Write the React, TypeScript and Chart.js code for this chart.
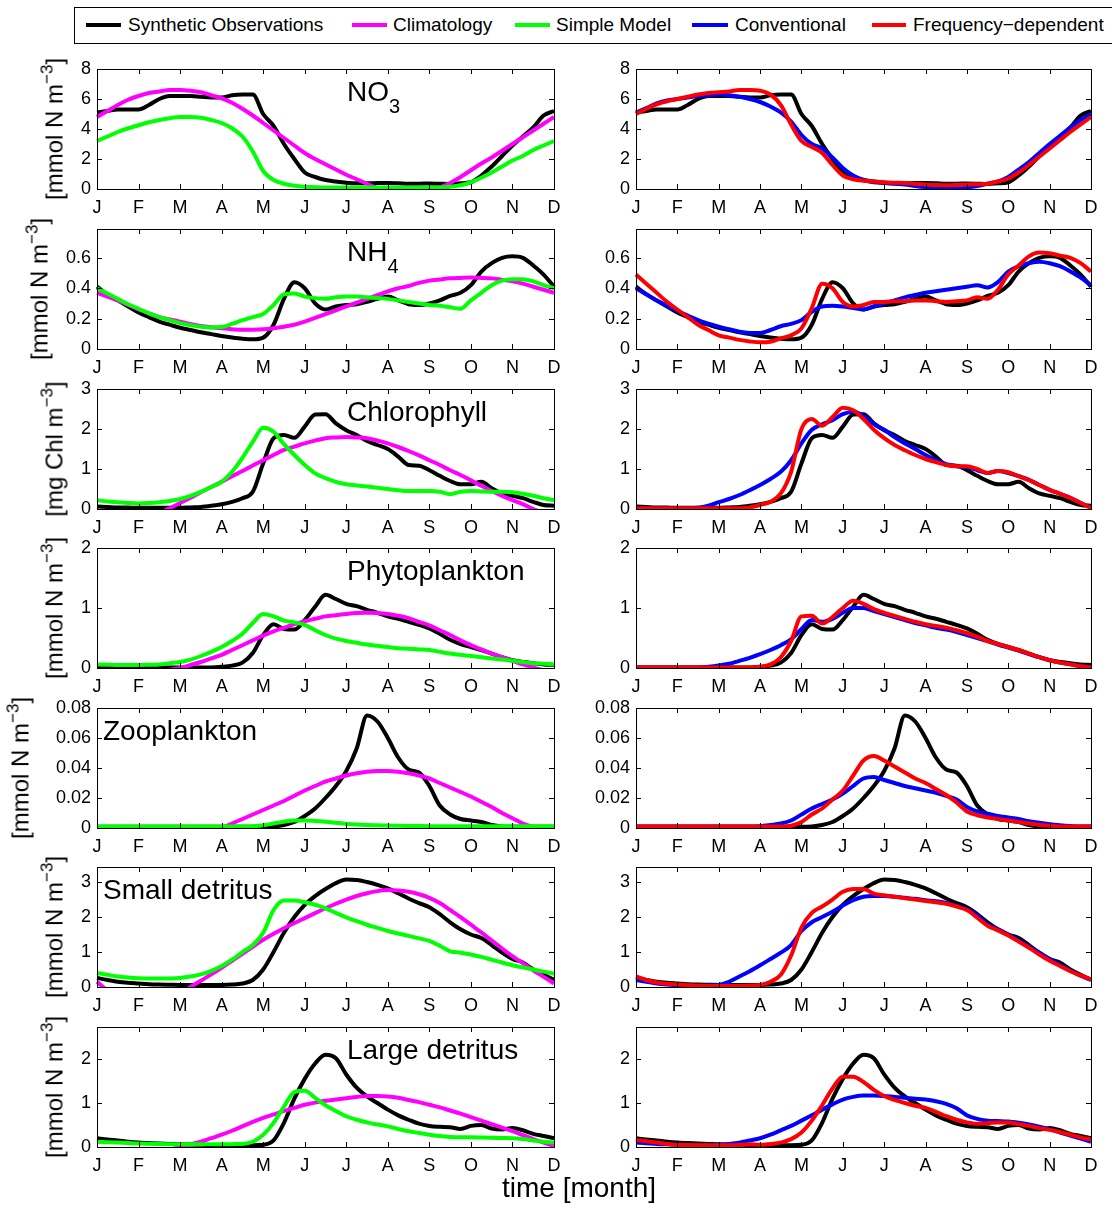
import React, { useEffect, useRef } from 'react';
import { Chart, registerables } from 'chart.js';

Chart.register(...registerables);

// ---------------- DATA ----------------
const MONTHS = ['J', 'F', 'M', 'A', 'M', 'J', 'J', 'A', 'S', 'O', 'N', 'D'];

// sampling grid in months (J = 0 ... D = 11)
const GRID = [
  0, 0.25, 0.5, 0.75, 1, 1.25, 1.5, 1.75, 2, 2.25, 2.5, 2.75, 3, 3.25, 3.5, 3.75,
  4, 4.25, 4.5, 4.75, 5, 5.25, 5.5, 5.75, 6, 6.25, 6.5, 6.75, 7, 7.25, 7.5, 7.75,
  8, 8.25, 8.5, 8.75, 9, 9.25, 9.5, 9.75, 10, 10.25, 10.5, 10.75, 11,
];

const SERIES_NAMES = ['Synthetic Observations', 'Climatology', 'Simple Model', 'Conventional', 'Frequency\u2212dependent'];
const SERIES_COLORS = ['#000000', '#ff00ff', '#00ff00', '#0000ff', '#ff0000'];

// NO3
const NO3_OBS = [5.1, 5.2, 5.3, 5.3, 5.3, 5.6, 6.0, 6.2, 6.2, 6.2, 6.15, 6.1, 6.1, 6.25, 6.3, 6.3, 5.0, 4.2, 3.0, 2.0, 1.1, 0.8, 0.6, 0.5, 0.42, 0.38, 0.38, 0.4, 0.4, 0.38, 0.35, 0.35, 0.37, 0.35, 0.33, 0.38, 0.45, 0.9, 1.5, 2.2, 2.9, 3.5, 4.1, 4.9, 5.2];
const NO3_CLIM = [4.8, 5.2, 5.6, 5.95, 6.2, 6.4, 6.5, 6.6, 6.6, 6.55, 6.45, 6.25, 6.05, 5.75, 5.35, 4.9, 4.4, 3.9, 3.4, 2.9, 2.4, 2.0, 1.65, 1.3, 0.95, 0.65, 0.35, 0.05, -0.2, -0.3, -0.3, -0.25, -0.1, 0.1, 0.4, 0.8, 1.25, 1.7, 2.1, 2.55, 3.0, 3.45, 3.9, 4.35, 4.8];
const NO3_SIMPLE = [3.2, 3.5, 3.8, 4.05, 4.25, 4.45, 4.6, 4.72, 4.8, 4.8, 4.75, 4.6, 4.4, 4.05, 3.5, 2.5, 1.2, 0.6, 0.35, 0.22, 0.15, 0.12, 0.1, 0.1, 0.1, 0.1, 0.1, 0.1, 0.1, 0.1, 0.1, 0.1, 0.1, 0.1, 0.15, 0.25, 0.45, 0.75, 1.1, 1.5, 1.9, 2.2, 2.6, 2.9, 3.2];
const NO3_CONV = [5.1, 5.4, 5.7, 5.9, 6.0, 6.1, 6.2, 6.25, 6.3, 6.25, 6.15, 6.0, 5.8, 5.5, 5.1, 4.5, 3.6, 3.0, 2.7, 2.1, 1.4, 0.9, 0.6, 0.45, 0.4, 0.35, 0.3, 0.2, 0.12, 0.05, 0.02, 0.02, 0.1, 0.2, 0.35, 0.5, 0.8, 1.3, 1.8, 2.4, 3.0, 3.55, 4.1, 4.6, 5.0];
const NO3_FREQ = [5.0, 5.35, 5.65, 5.85, 6.0, 6.15, 6.3, 6.4, 6.45, 6.5, 6.6, 6.6, 6.55, 6.3, 5.6, 4.3, 3.2, 2.8, 2.4, 1.6, 0.9, 0.65, 0.55, 0.5, 0.45, 0.42, 0.4, 0.35, 0.3, 0.27, 0.25, 0.27, 0.3, 0.32, 0.35, 0.5, 0.7, 1.1, 1.6, 2.15, 2.7, 3.25, 3.8, 4.3, 4.8];

// NH4
const NH4_OBS = [0.41, 0.36, 0.32, 0.28, 0.24, 0.21, 0.18, 0.16, 0.14, 0.125, 0.11, 0.098, 0.086, 0.076, 0.068, 0.064, 0.075, 0.16, 0.33, 0.44, 0.40, 0.30, 0.26, 0.28, 0.29, 0.295, 0.31, 0.33, 0.345, 0.32, 0.295, 0.29, 0.30, 0.32, 0.35, 0.37, 0.42, 0.51, 0.565, 0.60, 0.61, 0.60, 0.55, 0.49, 0.41];
const NH4_CLIM = [0.37, 0.345, 0.32, 0.29, 0.26, 0.235, 0.21, 0.195, 0.18, 0.165, 0.152, 0.143, 0.136, 0.13, 0.126, 0.127, 0.13, 0.137, 0.147, 0.16, 0.18, 0.205, 0.23, 0.255, 0.28, 0.305, 0.33, 0.355, 0.38, 0.40, 0.415, 0.435, 0.45, 0.458, 0.465, 0.468, 0.47, 0.468, 0.465, 0.455, 0.445, 0.43, 0.41, 0.39, 0.37];
const NH4_SIMPLE = [0.40, 0.365, 0.33, 0.295, 0.265, 0.235, 0.21, 0.19, 0.17, 0.157, 0.147, 0.142, 0.145, 0.165, 0.19, 0.21, 0.23, 0.29, 0.36, 0.365, 0.345, 0.335, 0.33, 0.34, 0.345, 0.345, 0.34, 0.335, 0.33, 0.32, 0.31, 0.30, 0.29, 0.285, 0.275, 0.265, 0.32, 0.37, 0.42, 0.45, 0.46, 0.46, 0.445, 0.42, 0.40];
const NH4_CONV = [0.40, 0.36, 0.32, 0.285, 0.25, 0.22, 0.19, 0.167, 0.147, 0.13, 0.114, 0.106, 0.105, 0.125, 0.15, 0.165, 0.19, 0.245, 0.28, 0.285, 0.28, 0.27, 0.26, 0.28, 0.30, 0.32, 0.34, 0.355, 0.37, 0.38, 0.39, 0.40, 0.41, 0.42, 0.405, 0.44, 0.51, 0.545, 0.565, 0.575, 0.565, 0.545, 0.51, 0.47, 0.42];
const NH4_FREQ = [0.49, 0.43, 0.37, 0.31, 0.26, 0.21, 0.16, 0.125, 0.09, 0.075, 0.06, 0.05, 0.044, 0.048, 0.07, 0.09, 0.136, 0.27, 0.43, 0.40, 0.31, 0.28, 0.29, 0.31, 0.31, 0.315, 0.315, 0.32, 0.32, 0.315, 0.31, 0.315, 0.32, 0.34, 0.33, 0.39, 0.49, 0.55, 0.61, 0.635, 0.63, 0.615, 0.60, 0.565, 0.51];

// Chlorophyll
const CHL_OBS = [0.06, 0.05, 0.04, 0.035, 0.03, 0.03, 0.03, 0.03, 0.03, 0.04, 0.05, 0.08, 0.12, 0.18, 0.27, 0.43, 1.14, 1.77, 1.85, 1.78, 2.06, 2.36, 2.37, 2.14, 1.97, 1.85, 1.7, 1.6, 1.5, 1.31, 1.1, 1.08, 0.97, 0.83, 0.7, 0.62, 0.62, 0.68, 0.52, 0.39, 0.33, 0.27, 0.18, 0.1, 0.08];
const CHL_CLIM = [-0.65, -0.6, -0.52, -0.43, -0.33, -0.22, -0.1, 0.02, 0.15, 0.28, 0.42, 0.55, 0.68, 0.82, 0.95, 1.09, 1.22, 1.35, 1.48, 1.56, 1.64, 1.71, 1.77, 1.79, 1.8, 1.79, 1.77, 1.71, 1.64, 1.55, 1.45, 1.34, 1.22, 1.1, 0.97, 0.85, 0.72, 0.58, 0.45, 0.33, 0.22, 0.12, 0.0, -0.1, -0.2];
const CHL_SIMPLE = [0.22, 0.19, 0.17, 0.15, 0.14, 0.15, 0.17, 0.2, 0.25, 0.33, 0.43, 0.55, 0.68, 0.93, 1.28, 1.68, 2.03, 1.93, 1.62, 1.35, 1.1, 0.89, 0.77, 0.68, 0.62, 0.59, 0.56, 0.53, 0.5, 0.47, 0.45, 0.45, 0.45, 0.43, 0.37, 0.43, 0.45, 0.44, 0.43, 0.43, 0.42, 0.38, 0.33, 0.27, 0.22];
const CHL_CONV = [0.02, 0.02, 0.02, 0.02, 0.02, 0.02, 0.03, 0.08, 0.17, 0.25, 0.35, 0.47, 0.6, 0.75, 0.93, 1.22, 1.64, 1.98, 2.12, 2.22, 2.37, 2.43, 2.33, 2.12, 1.98, 1.8, 1.64, 1.5, 1.35, 1.22, 1.12, 1.07, 1.04, 0.97, 0.9, 0.95, 0.9, 0.82, 0.73, 0.6, 0.48, 0.38, 0.28, 0.15, 0.03];
const CHL_FREQ = [0.02, 0.02, 0.02, 0.02, 0.02, 0.02, 0.02, 0.02, 0.02, 0.02, 0.02, 0.04, 0.1, 0.18, 0.39, 0.93, 2.0, 2.25, 2.08, 2.3, 2.53, 2.47, 2.25, 1.98, 1.77, 1.6, 1.47, 1.35, 1.25, 1.17, 1.1, 1.07, 1.07, 1.0, 0.9, 0.95, 0.92, 0.82, 0.72, 0.6, 0.48, 0.38, 0.28, 0.15, 0.03];

// Phytoplankton
const PHY_OBS = [0.01, 0.01, 0.01, 0.01, 0.01, 0.01, 0.01, 0.01, 0.01, 0.01, 0.01, 0.01, 0.02, 0.04, 0.09, 0.25, 0.55, 0.73, 0.65, 0.64, 0.8, 1.02, 1.22, 1.15, 1.07, 1.03, 0.97, 0.92, 0.86, 0.82, 0.77, 0.72, 0.66, 0.57, 0.47, 0.4, 0.35, 0.3, 0.24, 0.18, 0.13, 0.1, 0.08, 0.06, 0.05];
const PHY_CLIM = [-0.25, -0.22, -0.19, -0.16, -0.13, -0.1, -0.07, -0.03, 0.0, 0.05, 0.1, 0.16, 0.22, 0.3, 0.38, 0.46, 0.54, 0.61, 0.67, 0.73, 0.78, 0.82, 0.86, 0.88, 0.9, 0.915, 0.92, 0.915, 0.9, 0.87, 0.83, 0.77, 0.71, 0.63, 0.55, 0.46, 0.38, 0.31, 0.24, 0.18, 0.12, 0.06, 0.01, -0.04, -0.08];
const PHY_SIMPLE = [0.06, 0.055, 0.05, 0.05, 0.05, 0.055, 0.06, 0.08, 0.1, 0.14, 0.2, 0.27, 0.35, 0.45, 0.57, 0.75, 0.9, 0.86, 0.79, 0.76, 0.72, 0.63, 0.55, 0.49, 0.45, 0.42, 0.39, 0.37, 0.35, 0.33, 0.32, 0.31, 0.3, 0.27, 0.24, 0.22, 0.2, 0.18, 0.16, 0.14, 0.12, 0.1, 0.08, 0.07, 0.06];
const PHY_CONV = [0.01, 0.01, 0.01, 0.01, 0.01, 0.01, 0.01, 0.02, 0.04, 0.07, 0.12, 0.17, 0.23, 0.3, 0.38, 0.48, 0.65, 0.8, 0.77, 0.82, 0.92, 1.0, 1.0, 0.95, 0.9, 0.85, 0.8, 0.75, 0.71, 0.67, 0.64, 0.6, 0.55, 0.5, 0.45, 0.39, 0.34, 0.29, 0.23, 0.18, 0.13, 0.09, 0.06, 0.03, 0.01];
const PHY_FREQ = [0.01, 0.01, 0.01, 0.01, 0.01, 0.01, 0.01, 0.01, 0.01, 0.01, 0.01, 0.01, 0.02, 0.06, 0.18, 0.45, 0.86, 0.87, 0.74, 0.85, 1.0, 1.12, 1.07, 0.98, 0.92, 0.87, 0.82, 0.77, 0.73, 0.7, 0.67, 0.63, 0.58, 0.52, 0.45, 0.4, 0.35, 0.3, 0.24, 0.18, 0.13, 0.09, 0.06, 0.03, 0.01];

// Zooplankton
const ZOO_OBS = [0.0008, 0.0008, 0.0008, 0.0008, 0.0008, 0.0008, 0.0008, 0.0008, 0.0008, 0.0008, 0.0008, 0.0008, 0.0008, 0.0008, 0.0008, 0.0008, 0.0008, 0.001, 0.002, 0.004, 0.008, 0.013, 0.02, 0.028, 0.038, 0.053, 0.075, 0.071, 0.06, 0.047, 0.039, 0.037, 0.028, 0.015, 0.009, 0.006, 0.005, 0.004, 0.002, 0.001, 0.0008, 0.0008, 0.0008, 0.0008, 0.0008];
const ZOO_CLIM = [-0.02, -0.018, -0.016, -0.014, -0.012, -0.01, -0.0085, -0.007, -0.0055, -0.0042, -0.003, -0.0015, 0.0, 0.003, 0.006, 0.009, 0.012, 0.015, 0.018, 0.0215, 0.025, 0.028, 0.031, 0.033, 0.035, 0.0365, 0.0375, 0.038, 0.038, 0.0375, 0.0365, 0.035, 0.033, 0.03, 0.027, 0.024, 0.021, 0.0175, 0.014, 0.01, 0.0065, 0.003, 0.0005, -0.003, -0.006];
const ZOO_SIMPLE = [0.001, 0.001, 0.001, 0.001, 0.001, 0.001, 0.001, 0.001, 0.001, 0.001, 0.001, 0.001, 0.001, 0.001, 0.001, 0.0012, 0.0018, 0.003, 0.0042, 0.005, 0.005, 0.0047, 0.0042, 0.0035, 0.0028, 0.0023, 0.002, 0.0018, 0.0016, 0.0015, 0.0014, 0.0013, 0.0012, 0.0012, 0.0012, 0.0012, 0.0012, 0.0012, 0.0012, 0.0012, 0.0012, 0.0012, 0.0012, 0.0012, 0.0012];
const ZOO_CONV = [0.001, 0.001, 0.001, 0.001, 0.001, 0.001, 0.001, 0.001, 0.001, 0.001, 0.001, 0.001, 0.0012, 0.002, 0.003, 0.005, 0.009, 0.013, 0.016, 0.019, 0.023, 0.028, 0.033, 0.034, 0.032, 0.03, 0.028, 0.0265, 0.025, 0.0235, 0.0215, 0.019, 0.014, 0.011, 0.0095, 0.008, 0.007, 0.006, 0.0045, 0.0035, 0.0025, 0.0018, 0.0013, 0.001, 0.001];
const ZOO_FREQ = [0.001, 0.001, 0.001, 0.001, 0.001, 0.001, 0.001, 0.001, 0.001, 0.001, 0.001, 0.001, 0.001, 0.001, 0.001, 0.0015, 0.004, 0.009, 0.013, 0.019, 0.025, 0.035, 0.045, 0.048, 0.045, 0.041, 0.037, 0.033, 0.03, 0.026, 0.022, 0.017, 0.011, 0.0085, 0.007, 0.006, 0.005, 0.004, 0.003, 0.002, 0.0015, 0.001, 0.001, 0.001, 0.001];

// Small detritus
const SD_OBS = [0.26, 0.2, 0.15, 0.12, 0.1, 0.08, 0.07, 0.065, 0.06, 0.06, 0.06, 0.06, 0.06, 0.07, 0.1, 0.2, 0.5, 1.0, 1.55, 2.0, 2.35, 2.6, 2.8, 2.97, 3.07, 3.06, 3.0, 2.92, 2.82, 2.68, 2.53, 2.4, 2.28, 2.08, 1.85, 1.65, 1.5, 1.4, 1.2, 0.98, 0.8, 0.7, 0.5, 0.35, 0.21];
const SD_CLIM = [0.15, -0.1, -0.3, -0.45, -0.55, -0.6, -0.55, -0.4, -0.2, 0.0, 0.18, 0.36, 0.55, 0.75, 0.95, 1.15, 1.35, 1.52, 1.68, 1.83, 1.97, 2.11, 2.25, 2.38, 2.5, 2.6, 2.68, 2.74, 2.77, 2.76, 2.72, 2.65, 2.55, 2.4, 2.2, 2.0, 1.78, 1.56, 1.33, 1.1, 0.88, 0.68, 0.48, 0.29, 0.1];
const SD_SIMPLE = [0.4, 0.35, 0.3, 0.27, 0.25, 0.24, 0.24, 0.245, 0.26, 0.3, 0.36, 0.46, 0.6, 0.78, 1.0, 1.2, 1.55, 2.2, 2.47, 2.47, 2.42, 2.35, 2.25, 2.12, 1.99, 1.88, 1.78, 1.69, 1.6, 1.53, 1.46, 1.39, 1.32, 1.18, 1.02, 0.98, 0.93, 0.86, 0.78, 0.7, 0.62, 0.56, 0.5, 0.44, 0.38];
const SD_CONV = [0.2, 0.15, 0.1, 0.07, 0.05, 0.04, 0.03, 0.04, 0.06, 0.15, 0.3, 0.45, 0.62, 0.8, 0.98, 1.2, 1.6, 1.85, 2.0, 2.15, 2.33, 2.48, 2.58, 2.6, 2.6, 2.58, 2.55, 2.52, 2.48, 2.45, 2.4, 2.32, 2.22, 2.05, 1.78, 1.65, 1.5, 1.33, 1.15, 0.98, 0.8, 0.63, 0.47, 0.32, 0.2];
const SD_FREQ = [0.3, 0.2, 0.13, 0.09, 0.07, 0.05, 0.04, 0.03, 0.03, 0.03, 0.03, 0.04, 0.06, 0.15, 0.35, 0.9, 1.7, 2.12, 2.3, 2.5, 2.72, 2.8, 2.8, 2.67, 2.62, 2.58, 2.54, 2.5, 2.46, 2.42, 2.38, 2.3, 2.2, 1.98, 1.75, 1.62, 1.47, 1.3, 1.12, 0.93, 0.75, 0.6, 0.45, 0.33, 0.22];

// Large detritus
const LD_OBS = [0.2, 0.17, 0.15, 0.12, 0.1, 0.09, 0.08, 0.07, 0.06, 0.055, 0.05, 0.045, 0.04, 0.04, 0.04, 0.04, 0.05, 0.15, 0.55, 1.1, 1.55, 1.9, 2.1, 2.02, 1.65, 1.35, 1.15, 1.0, 0.85, 0.72, 0.62, 0.53, 0.48, 0.46, 0.45, 0.41, 0.48, 0.5, 0.42, 0.4, 0.43, 0.38, 0.3, 0.25, 0.2];
const LD_CLIM = [-0.35, -0.33, -0.3, -0.27, -0.23, -0.18, -0.12, -0.06, 0.0, 0.06, 0.12, 0.2, 0.28, 0.37, 0.47, 0.57, 0.66, 0.74, 0.82, 0.89, 0.96, 1.01, 1.05, 1.08, 1.11, 1.14, 1.16, 1.16, 1.15, 1.12, 1.07, 1.02, 0.96, 0.9, 0.83, 0.76, 0.68, 0.6, 0.52, 0.44, 0.36, 0.27, 0.18, 0.1, 0.02];
const LD_SIMPLE = [0.12, 0.11, 0.1, 0.09, 0.08, 0.075, 0.07, 0.065, 0.06, 0.06, 0.06, 0.06, 0.06, 0.065, 0.07, 0.12, 0.28, 0.55, 0.92, 1.25, 1.28, 1.12, 0.95, 0.82, 0.7, 0.62, 0.56, 0.51, 0.47, 0.41, 0.36, 0.32, 0.28, 0.25, 0.23, 0.22, 0.22, 0.215, 0.21, 0.205, 0.2, 0.18, 0.15, 0.12, 0.1];
const LD_CONV = [0.1, 0.085, 0.07, 0.06, 0.05, 0.045, 0.04, 0.045, 0.05, 0.07, 0.1, 0.15, 0.2, 0.28, 0.38, 0.48, 0.6, 0.72, 0.85, 0.97, 1.08, 1.14, 1.17, 1.17, 1.16, 1.14, 1.12, 1.1, 1.08, 1.04, 0.98, 0.88, 0.72, 0.64, 0.6, 0.59, 0.58, 0.55, 0.51, 0.46, 0.4, 0.33, 0.26, 0.19, 0.12];
const LD_FREQ = [0.16, 0.13, 0.1, 0.07, 0.05, 0.045, 0.04, 0.04, 0.04, 0.04, 0.045, 0.06, 0.05, 0.07, 0.1, 0.18, 0.33, 0.6, 0.95, 1.33, 1.6, 1.6, 1.48, 1.3, 1.16, 1.07, 1.0, 0.94, 0.89, 0.8, 0.7, 0.62, 0.56, 0.53, 0.54, 0.56, 0.56, 0.52, 0.48, 0.43, 0.39, 0.34, 0.28, 0.22, 0.17];

// axis limits / tick steps per variable
const Y_MAX = [8, 0.79, 3, 2, 0.08, 3.43, 2.73];
const Y_STEP = [2, 0.2, 1, 1, 0.02, 1, 1];

const VARIABLES = [
  { name: 'NO', sub: '3', unit: 'mmol N', obs: NO3_OBS, clim: NO3_CLIM, simple: NO3_SIMPLE, conv: NO3_CONV, freq: NO3_FREQ },
  { name: 'NH', sub: '4', unit: 'mmol N', obs: NH4_OBS, clim: NH4_CLIM, simple: NH4_SIMPLE, conv: NH4_CONV, freq: NH4_FREQ },
  { name: 'Chlorophyll', sub: '', unit: 'mg Chl', obs: CHL_OBS, clim: CHL_CLIM, simple: CHL_SIMPLE, conv: CHL_CONV, freq: CHL_FREQ },
  { name: 'Phytoplankton', sub: '', unit: 'mmol N', obs: PHY_OBS, clim: PHY_CLIM, simple: PHY_SIMPLE, conv: PHY_CONV, freq: PHY_FREQ },
  { name: 'Zooplankton', sub: '', unit: 'mmol N', obs: ZOO_OBS, clim: ZOO_CLIM, simple: ZOO_SIMPLE, conv: ZOO_CONV, freq: ZOO_FREQ },
  { name: 'Small detritus', sub: '', unit: 'mmol N', obs: SD_OBS, clim: SD_CLIM, simple: SD_SIMPLE, conv: SD_CONV, freq: SD_FREQ },
  { name: 'Large detritus', sub: '', unit: 'mmol N', obs: LD_OBS, clim: LD_CLIM, simple: LD_SIMPLE, conv: LD_CONV, freq: LD_FREQ },
];

// ---------------- LAYOUT ----------------
const FONT = "'Liberation Sans', Arial, Helvetica, sans-serif";
const ROW_TOPS = [69, 229, 389, 548, 708, 867, 1027];
const PLOT_H = 120;
const COL_LEFTS = [97, 636];
const COL_WIDTHS = [457, 455];
const PAD_L = 70;
const PAD_T = 20;
const PAD_R = 16;
const PAD_B = 36;
const YLABEL_X = [56, 41, 56, 56, 22, 56, 56];
const TITLE_X = [347, 347, 347, 347, 103, 103, 347];
const LEGEND_POS = [
  { sx: 86, ex: 121, tx: 128 },
  { sx: 352, ex: 387, tx: 393 },
  { sx: 515, ex: 550, tx: 556 },
  { sx: 692, ex: 728, tx: 735 },
  { sx: 872, ex: 906, tx: 913 },
];

const framePlugin = {
  id: 'frameTicks',
  afterDatasetsDraw(chart: any) {
    const { ctx, chartArea: a, scales } = chart;
    const L = 5;
    ctx.save();
    ctx.strokeStyle = '#000';
    ctx.lineWidth = 1;
    ctx.beginPath();
    for (const t of scales.x.ticks) {
      const px = Math.round(scales.x.getPixelForValue(t.value)) + 0.5;
      ctx.moveTo(px, a.bottom);
      ctx.lineTo(px, a.bottom - L);
      ctx.moveTo(px, a.top);
      ctx.lineTo(px, a.top + L);
    }
    for (const t of scales.y.ticks) {
      const py = Math.round(scales.y.getPixelForValue(t.value)) + 0.5;
      ctx.moveTo(a.left, py);
      ctx.lineTo(a.left + L, py);
      ctx.moveTo(a.right, py);
      ctx.lineTo(a.right - L, py);
    }
    ctx.stroke();
    ctx.strokeRect(Math.round(a.left) + 0.5, Math.round(a.top) + 0.5, Math.round(a.right - a.left), Math.round(a.bottom - a.top));
    ctx.restore();
  },
};

function fmt(v: number) {
  return String(Number(Number(v).toFixed(4)));
}

type PanelProps = { row: number; col: number };

function Panel({ row, col }: PanelProps) {
  const ref = useRef<HTMLCanvasElement | null>(null);
  const v = VARIABLES[row];
  const W = COL_WIDTHS[col] + PAD_L + PAD_R;
  const H = PLOT_H + PAD_T + PAD_B;
  useEffect(() => {
    const idx = col === 0 ? [2, 1, 0] : [4, 3, 0];
    const arrays = [v.obs, v.clim, v.simple, v.conv, v.freq];
    const datasets = idx.map((k) => ({
      label: SERIES_NAMES[k],
      data: GRID.map((x, i) => ({ x, y: arrays[k][i] })),
      borderColor: SERIES_COLORS[k],
      backgroundColor: SERIES_COLORS[k],
      borderWidth: 4,
      pointRadius: 0,
      fill: false,
      cubicInterpolationMode: 'monotone' as const,
      clip: { left: 3, top: 3, right: 3, bottom: 0 },
    }));
    const chart = new Chart(ref.current as HTMLCanvasElement, {
      type: 'line',
      data: { datasets },
      options: {
        animation: false,
        responsive: false,
        devicePixelRatio: 1,
        layout: { padding: { top: PAD_T, right: PAD_R, left: 0, bottom: 0 } },
        plugins: { legend: { display: false }, tooltip: { enabled: false } },
        scales: {
          x: {
            type: 'linear',
            min: 0,
            max: 11,
            afterFit: (s: any) => { s.height = PAD_B; },
            grid: { display: false, drawTicks: false },
            border: { display: false },
            ticks: {
              stepSize: 1,
              autoSkip: false,
              maxRotation: 0,
              padding: 8,
              color: '#000',
              font: { family: FONT, size: 18 },
              callback: (val: any) => MONTHS[Number(val)],
            },
          },
          y: {
            type: 'linear',
            min: 0,
            max: Y_MAX[row],
            afterFit: (s: any) => { s.width = PAD_L; },
            grid: { display: false, drawTicks: false },
            border: { display: false },
            ticks: {
              stepSize: Y_STEP[row],
              includeBounds: false,
              padding: 6,
              color: '#000',
              font: { family: FONT, size: 18 },
              callback: (val: any) => fmt(val),
            },
          },
        },
      } as any,
      plugins: [framePlugin],
    });
    return () => chart.destroy();
  }, []);
  return (
    <canvas
      ref={ref}
      width={W}
      height={H}
      style={{ position: 'absolute', left: COL_LEFTS[col] - PAD_L, top: ROW_TOPS[row] - PAD_T, width: W, height: H }}
    />
  );
}

export default function App() {
  const abs: React.CSSProperties = { position: 'absolute', whiteSpace: 'nowrap', color: '#000', fontFamily: FONT };
  return (
    <div style={{ position: 'absolute', left: 0, top: 0, width: 1112, height: 1209, background: '#fff', overflow: 'hidden' }}>
      {/* legend */}
      <div style={{ position: 'absolute', left: 74, top: 7, width: 1060, height: 35, border: '1px solid #000', boxSizing: 'content-box' }} />
      {LEGEND_POS.map((p, i) => (
        <React.Fragment key={i}>
          <div style={{ position: 'absolute', left: p.sx, top: 23, width: p.ex - p.sx, height: 4, background: SERIES_COLORS[i] }} />
          <div style={{ ...abs, left: p.tx, top: 15, fontSize: 19, lineHeight: '19px' }}>{SERIES_NAMES[i]}</div>
        </React.Fragment>
      ))}

      {VARIABLES.map((v, r) => (
        <React.Fragment key={r}>
          <Panel row={r} col={0} />
          <Panel row={r} col={1} />
          <div style={{ ...abs, left: TITLE_X[r], top: ROW_TOPS[r] + 9, fontSize: 28, lineHeight: '28px' }}>
            {v.name}
            {v.sub ? <span style={{ fontSize: 20, position: 'relative', top: 12 }}>{v.sub}</span> : null}
          </div>
          <div
            style={{
              ...abs,
              left: YLABEL_X[r],
              top: ROW_TOPS[r] + PLOT_H / 2,
              fontSize: 24,
              lineHeight: '24px',
              transform: 'translate(-50%, -50%) rotate(-90deg)',
            }}
          >
            [{v.unit} m<span style={{ fontSize: 17, position: 'relative', top: -10 }}>{'\u22123'}</span>]
          </div>
        </React.Fragment>
      ))}

      <div style={{ ...abs, left: 579, top: 1174, fontSize: 28, lineHeight: '28px', transform: 'translateX(-50%)' }}>time [month]</div>
    </div>
  );
}
